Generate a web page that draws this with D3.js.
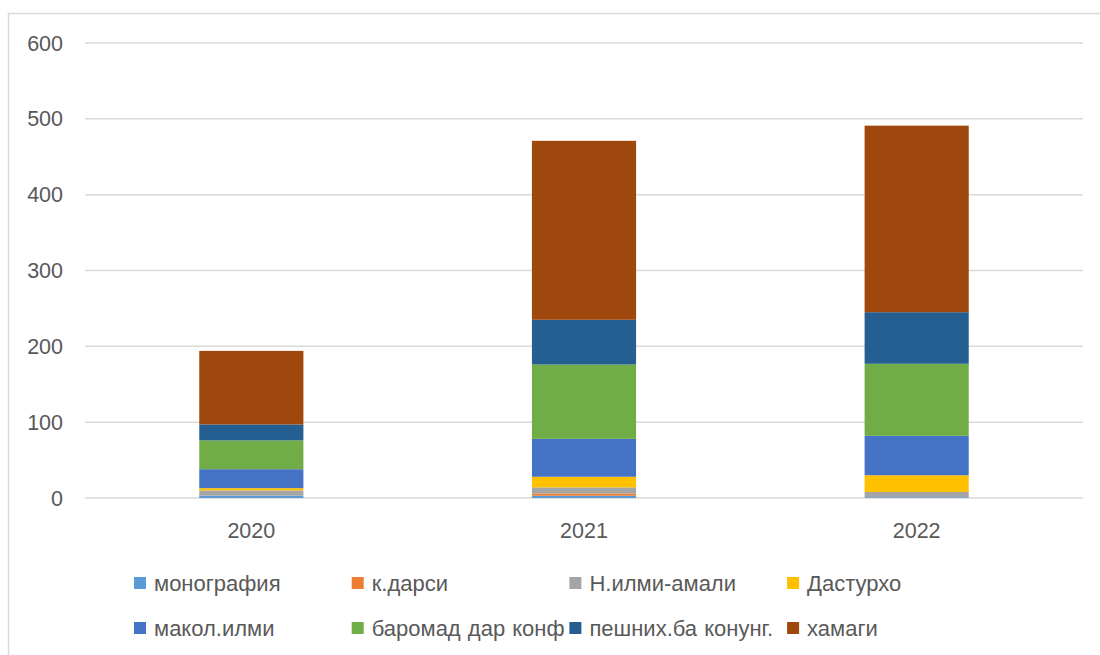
<!DOCTYPE html>
<html>
<head>
<meta charset="utf-8">
<script src="https://cdn.jsdelivr.net/npm/d3@7"></script>
<style>
  html, body { margin: 0; padding: 0; background: #fff; }
  svg { display: block; }
</style>
</head>
<body>
<svg id="chart"></svg>
<script>
// years on the x axis
const years = ["2020", "2021", "2022"]

// series, bottom to top of the stack
const seriesNames = ["монография", "к.дарси", "Н.илми-амали", "Дастурхо",
                     "макол.илми", "баромад дар конф", "пешних.ба конунг.", "хамаги"]

// values per year, one array per series
const monografia = [3, 3, 1]
const kDarsi     = [0, 3, 0]
const nIlmi      = [7, 8, 7]
const dasturho   = [3, 14, 22]
const makolIlmi  = [25, 50, 52]
const baromad    = [38, 98, 95]
const peshnih    = [21, 59, 68]
const hamagi     = [97, 236, 246]

const yTicks = [0, 100, 200, 300, 400, 500, 600]

const colors = ["#5B9BD5", "#ED7D31", "#A5A5A5", "#FFC000",
                "#4472C4", "#70AD47", "#255E91", "#9E480E"]

const width = 1100
const height = 655
const margin = {left: 85, right: 17, top: 43, bottom: 157}
const fontSize = 21.5

const svg = d3.select("#chart")
    .attr("width", width)
    .attr("height", height)
    .style("font-family", "'Liberation Sans', Arial, sans-serif")

// chart frame (only left + top edges fall inside the picture)
svg.append("rect")
    .attr("x", 8.5).attr("y", 13.5)
    .attr("width", width + 20).attr("height", height + 20)
    .attr("fill", "none")
    .attr("stroke", "#d9d9d9")
    .attr("stroke-width", 1.5)

const allSeries = [monografia, kDarsi, nIlmi, dasturho, makolIlmi, baromad, peshnih, hamagi]
const table = years.map((y, i) => {
    let row = {year: y}
    seriesNames.forEach((name, s) => row[name] = allSeries[s][i])
    return row
})

const x = d3.scaleBand()
    .domain(years)
    .range([margin.left, width - margin.right])
    .paddingInner(0.687)
    .paddingOuter(0.3435)

const y = d3.scaleLinear()
    .domain([0, 600])
    .range([height - margin.bottom, margin.top])

// gridlines
svg.append("g")
    .selectAll("line")
    .data(yTicks)
    .join("line")
    .attr("x1", margin.left)
    .attr("x2", width - margin.right)
    .attr("y1", d => y(d))
    .attr("y2", d => y(d))
    .attr("stroke", "#d9d9d9")
    .attr("stroke-width", 1.5)

// y tick labels
svg.append("g")
    .selectAll("text")
    .data(yTicks)
    .join("text")
    .attr("x", 63)
    .attr("y", d => y(d))
    .attr("dy", "0.35em")
    .attr("text-anchor", "end")
    .attr("font-size", fontSize)
    .attr("fill", "#595959")
    .text(d => d)

const stack = d3.stack().keys(seriesNames)
const layers = stack(table)

svg.append("g")
    .selectAll("g")
    .data(layers)
    .join("g")
    .attr("fill", (d, i) => colors[i])
    .selectAll("rect")
    .data(d => d)
    .join("rect")
    .attr("x", d => x(d.data.year))
    .attr("width", x.bandwidth())
    .attr("y", d => y(d[1]))
    .attr("height", d => y(d[0]) - y(d[1]))

// x labels
svg.append("g")
    .selectAll("text")
    .data(years)
    .join("text")
    .attr("x", d => x(d) + x.bandwidth() / 2)
    .attr("y", 530)
    .attr("dy", "0.35em")
    .attr("text-anchor", "middle")
    .attr("font-size", fontSize)
    .attr("fill", "#595959")
    .text(d => d)

// legend, 4 columns x 2 rows
const legend = svg.append("g")
    .selectAll("g")
    .data(seriesNames)
    .join("g")
    .attr("transform", (d, i) => `translate(${134 + (i % 4) * 217.7},${583 + Math.floor(i / 4) * 45})`)

legend.append("rect")
    .attr("x", 0).attr("y", -6)
    .attr("width", 12).attr("height", 12)
    .attr("fill", (d, i) => colors[i])

legend.append("text")
    .attr("x", 20)
    .attr("dy", "0.35em")
    .attr("font-size", 22)
    .attr("word-spacing", 1)
    .attr("fill", "#595959")
    .text(d => d)
</script>
</body>
</html>
